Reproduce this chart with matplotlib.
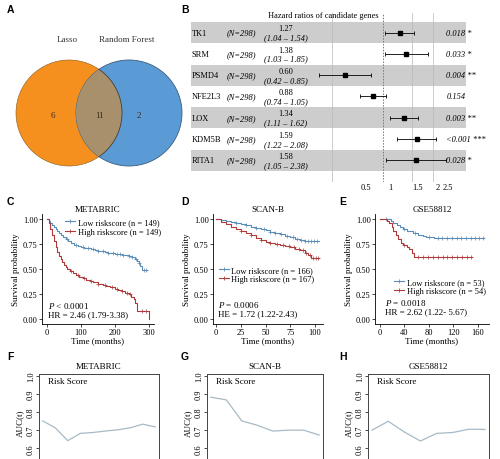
import numpy as np
import matplotlib
matplotlib.use('Agg')
import matplotlib.pyplot as plt
from matplotlib.patches import Circle
from matplotlib.lines import Line2D
from matplotlib.ticker import NullLocator
from matplotlib.transforms import blended_transform_factory

plt.rcParams['font.family'] = ['Liberation Serif', 'DejaVu Serif']
plt.rcParams['mathtext.fontset'] = 'custom'
plt.rcParams['mathtext.rm'] = 'Liberation Serif'
plt.rcParams['mathtext.it'] = 'Liberation Serif:italic'
plt.rcParams['font.size'] = 6

W, H = 500, 460

# ---- data ----
venn_sets = ['Lasso', 'Random Forest']
venn_counts = [6, 11, 2]

genes = ['TK1', 'SRM', 'PSMD4', 'NFE2L3', 'LOX', 'KDM5B', 'RITA1']
n_pat = [298, 298, 298, 298, 298, 298, 298]
hr = [1.27, 1.38, 0.60, 0.88, 1.34, 1.59, 1.58]
ci_lo = [1.04, 1.03, 0.42, 0.74, 1.11, 1.22, 1.05]
ci_hi = [1.54, 1.85, 0.85, 1.05, 1.62, 2.08, 2.38]
pvals = ['0.018', '0.033', '0.004', '0.154', '0.003', '<0.001', '0.028']
stars = ['*', '*', '**', '', '**', '***', '*']
hr_tick_labels = ['0.5', '1', '1.5', '2', '2.5']

# METABRIC KM
met_low_t = [0, 5, 10, 15, 20, 25, 30, 35, 40, 48, 55, 62, 70, 80, 90, 100, 110, 120, 130, 140, 150, 160,
             170, 180, 190, 200, 210, 220, 230, 240, 250, 258, 265, 270, 275, 280, 295]
met_low_s = [1.0, 0.98, 0.96, 0.94, 0.92, 0.90, 0.88, 0.86, 0.84, 0.82, 0.80, 0.78, 0.76, 0.745, 0.735, 0.725,
             0.715, 0.71, 0.70, 0.695, 0.685, 0.68, 0.675, 0.665, 0.66, 0.655, 0.65, 0.645, 0.64, 0.63, 0.62,
             0.60, 0.58, 0.56, 0.53, 0.49, 0.49]
met_low_c = [60, 85, 105, 120, 135, 150, 165, 180, 195, 205, 215, 225, 240, 250, 262, 272, 285, 292]
met_high_t = [0, 5, 10, 15, 20, 25, 30, 35, 40, 45, 50, 55, 60, 68, 75, 85, 95, 105, 115, 125, 135, 150,
              165, 175, 185, 200, 210, 220, 230, 240, 248, 255, 260, 264, 300]
met_high_s = [1.0, 0.96, 0.90, 0.84, 0.78, 0.72, 0.67, 0.63, 0.60, 0.57, 0.54, 0.52, 0.50, 0.48, 0.46, 0.44,
              0.42, 0.41, 0.39, 0.38, 0.37, 0.35, 0.34, 0.33, 0.32, 0.30, 0.29, 0.28, 0.26, 0.25, 0.22, 0.20,
              0.16, 0.08, 0.0]
met_high_c = [70, 90, 110, 130, 150, 170, 190, 205, 222, 235, 245, 280, 290]

# SCAN-B KM
scb_low_t = [0, 5, 10, 15, 20, 25, 30, 35, 40, 45, 50, 55, 60, 65, 70, 75, 80, 85, 90, 95, 100, 104]
scb_low_s = [1.0, 0.99, 0.98, 0.97, 0.96, 0.95, 0.94, 0.925, 0.91, 0.90, 0.89, 0.875, 0.86, 0.85, 0.835,
             0.82, 0.805, 0.795, 0.785, 0.78, 0.78, 0.78]
scb_low_c = [20, 30, 40, 48, 55, 60, 66, 72, 78, 82, 86, 90, 93, 96, 99, 102]
scb_high_t = [0, 5, 10, 15, 20, 25, 30, 35, 40, 45, 50, 55, 60, 65, 70, 75, 80, 85, 90, 93, 96, 104]
scb_high_s = [1.0, 0.975, 0.95, 0.925, 0.90, 0.88, 0.86, 0.84, 0.815, 0.795, 0.775, 0.76, 0.75, 0.74, 0.73,
              0.72, 0.705, 0.69, 0.665, 0.64, 0.61, 0.61]
scb_high_c = [25, 35, 45, 55, 62, 68, 74, 79, 84, 88, 91, 95, 98, 101, 103]

# GSE58812 KM
gse_low_t = [0, 18, 22, 28, 33, 37, 45, 54, 62, 70, 76, 88, 170]
gse_low_s = [1.0, 0.98, 0.96, 0.94, 0.92, 0.90, 0.88, 0.86, 0.84, 0.83, 0.82, 0.81, 0.81]
gse_low_c = [10, 40, 58, 80, 95, 102, 110, 118, 125, 132, 140, 148, 155, 162, 168]
gse_high_t = [0, 12, 15, 19, 22, 26, 30, 34, 38, 44, 48, 52, 56, 150]
gse_high_s = [1.0, 0.98, 0.96, 0.92, 0.88, 0.84, 0.80, 0.76, 0.74, 0.72, 0.70, 0.66, 0.62, 0.62]
gse_high_c = [40, 62, 70, 78, 86, 95, 103, 110, 118, 126, 134, 142, 148]

# time-dependent AUC
met_auc_t = [1, 2, 3, 4, 5, 6, 7, 8, 9, 10]
met_auc = [0.751, 0.713, 0.642, 0.682, 0.687, 0.695, 0.702, 0.713, 0.733, 0.718]
scb_auc_t = [1, 2, 3, 4, 5, 6, 7, 8]
scb_auc = [0.882, 0.867, 0.751, 0.727, 0.695, 0.700, 0.700, 0.673]
gse_auc_t = [1, 2, 3, 4, 5, 6, 7, 8]
gse_auc = [0.700, 0.749, 0.690, 0.640, 0.682, 0.687, 0.705, 0.704]

low_col = '#5b8db8'
high_col = '#b03a3a'

fig = plt.figure(figsize=(5, 4.6), dpi=100)


def px_axes(x0, y0, x1, y1):
    return fig.add_axes([x0 / W, 1 - y1 / H, (x1 - x0) / W, (y1 - y0) / H])


def letter(x, y, s):
    fig.text(x / W, 1 - y / H, s, fontsize=7.5, fontweight='bold', family='Liberation Sans',
             ha='center', va='center')


# ---- A: venn ----
ax = px_axes(0, 0, 185, 200)
ax.set_xlim(0, 185)
ax.set_ylim(200, 0)
ax.axis('off')
c1 = Circle((69, 114), 53, fc='#f5901e', ec='#8a5a20', lw=0.4)
c2 = Circle((129, 114), 53, fc='#5b9bd5', ec='#3c5c7c', lw=0.6)
ax.add_patch(c1)
ax.add_patch(c2)
mid = Circle((69, 114), 53, fc='#a8906c', ec='#4a3c30', lw=0.6)
ax.add_patch(mid)
mid.set_clip_path(c2)
ax.text(67, 40, venn_sets[0], ha='center', va='center', fontsize=6.5, color='#333333')
ax.text(127, 40, venn_sets[1], ha='center', va='center', fontsize=6.5, color='#333333')
for xx, n in zip([53, 100, 139], venn_counts):
    ax.text(xx, 116, str(n), ha='center', va='center', fontsize=6.5, color='#3a2a1e')

# ---- B: forest ----
ax = px_axes(191, 14, 466, 183)
ax.set_xscale('log')
ax.set_xlim(0.0733, 3.124)
ax.set_ylim(7.02, -0.92)
rows = np.arange(len(genes))
for i in rows[::2]:
    ax.axhspan(i - 0.5, i + 0.5, color='#cdcdcd', lw=0, zorder=0)
for v in [0.5, 1.5, 2]:
    ax.axvline(v, color='#b8b8b8', lw=0.5, zorder=1)
ax.axvline(1, color='#777777', lw=0.7, ls=(0, (1.5, 1.5)), zorder=1)
hr_a = np.array(hr)
ax.errorbar(hr_a, rows, xerr=[hr_a - np.array(ci_lo), np.array(ci_hi) - hr_a], fmt='s', color='black',
            ms=3, lw=0.6, capsize=1.5, capthick=0.6, zorder=3)
bt = blended_transform_factory(ax.transAxes, ax.transData)
for i in rows:
    ax.text(0.003, i, genes[i], transform=bt, ha='left', va='center', fontsize=6)
    ax.text(0.182, i, '(N=%d)' % n_pat[i], transform=bt, ha='center', va='center', fontsize=6,
            style='italic')
    ax.text(0.345, i - 0.2, '%.2f' % hr[i], transform=bt, ha='center', va='center', fontsize=6)
    ax.text(0.345, i + 0.22, '(%.2f \u2013 %.2f)' % (ci_lo[i], ci_hi[i]), transform=bt, ha='center',
            va='center', fontsize=6, style='italic')
    ax.text(0.928, i, (pvals[i] + ' ' + stars[i]).strip(), transform=bt, ha='left', va='center',
            fontsize=6, style='italic', clip_on=False)
ax.xaxis.set_minor_locator(NullLocator())
ax.set_xticks([0.80, 1.11, 1.62, 2.13, 2.44])
ax.set_xticklabels(hr_tick_labels)
ax.tick_params(axis='x', length=0, pad=0.5, labelsize=6)
ax.set_yticks([])
for sp in ax.spines.values():
    sp.set_visible(False)
fig.text(323 / W, 1 - 16 / H, 'Hazard ratios of candidate genes', ha='center', va='center', fontsize=6)


# ---- C, D, E: KM ----
def km_panel(box, title, curves, xlim, xticks, stats, leg_xy):
    ax = px_axes(*box)
    handles = []
    labels = []
    for t, s, ct, col, lab in curves:
        ax.step(t, s, where='post', color=col, lw=0.8)
        t_a = np.array(t)
        cs = [s[np.searchsorted(t_a, c, side='right') - 1] for c in ct]
        ax.plot(ct, cs, '+', color=col, ms=2.5, mew=0.5)
        handles.append(Line2D([], [], color=col, lw=0.8, marker='+', ms=3, mew=0.6))
        labels.append(lab)
    ax.set_xlim(*xlim)
    ax.set_ylim(-0.05, 1.05)
    ax.set_xticks(xticks)
    ax.set_yticks([0, 0.25, 0.5, 0.75, 1.0])
    ax.set_yticklabels(['0.00', '0.25', '0.50', '0.75', '1.00'])
    for sp in ['top', 'right']:
        ax.spines[sp].set_visible(False)
    for sp in ['left', 'bottom']:
        ax.spines[sp].set_linewidth(0.6)
    ax.tick_params(length=2, width=0.5, labelsize=6, pad=1)
    ax.set_title(title, fontsize=6.5, pad=2)
    ax.set_xlabel('Time (months)', fontsize=6.5, labelpad=0)
    ax.set_ylabel('Survival probability', fontsize=6.5, labelpad=2)
    ax.legend(handles, labels, loc='upper right', bbox_to_anchor=leg_xy, frameon=False, fontsize=6,
              handlelength=1.2, handletextpad=0.3, labelspacing=0.15, borderpad=0, borderaxespad=0)
    ax.text(stats[0], stats[1], stats[2], transform=ax.transAxes, fontsize=6.5, va='center')
    ax.text(stats[0], stats[1] - 0.08, stats[3], transform=ax.transAxes, fontsize=6.5, va='center')
    return ax


km_panel((42, 215, 154, 325), 'METABRIC',
         [(met_low_t, met_low_s, met_low_c, low_col, 'Low riskscore (n = 149)'),
          (met_high_t, met_high_s, met_high_c, high_col, 'High riskscore (n = 149)')],
         (-15, 315), [0, 100, 200, 300],
         (0.054, 0.17, r'$P$ < 0.0001', 'HR = 2.46 (1.79-3.38)'), (1.06, 0.96))
km_panel((213, 215, 323, 325), 'SCAN-B',
         [(scb_low_t, scb_low_s, scb_low_c, low_col, 'Low riskscore (n = 166)'),
          (scb_high_t, scb_high_s, scb_high_c, high_col, 'High riskscore (n = 167)')],
         (-3, 108), [0, 25, 50, 75, 100],
         (0.045, 0.18, r'$P$ = 0.0006', 'HE = 1.72 (1.22-2.43)'), (0.92, 0.53))
km_panel((375, 215, 489, 325), 'GSE58812',
         [(gse_low_t, gse_low_s, gse_low_c, low_col, 'Low riskscore (n = 53)'),
          (gse_high_t, gse_high_s, gse_high_c, high_col, 'High riskscore (n = 54)')],
         (-8, 178), [0, 40, 80, 120, 160],
         (0.088, 0.2, r'$P$ = 0.0018', 'HR = 2.62 (1.22- 5.67)'), (0.97, 0.42))


# ---- F, G, H: AUC ----
def auc_panel(box, title, t, auc, m):
    ax = px_axes(*box)
    ax.plot(t, auc, color='#a7bac6', lw=0.9)
    ax.set_xlim(t[0] - m, t[-1] + m)
    ax.set_ylim(0.48, 1.01)
    ax.set_xticks([])
    ax.set_yticks([0.6, 0.7, 0.8, 0.9, 1.0])
    ax.set_yticklabels(['0.6', '0.7', '0.8', '0.9', '1.0'], rotation=90, va='center')
    ax.tick_params(length=2, width=0.5, labelsize=6, pad=1)
    for sp in ax.spines.values():
        sp.set_linewidth(0.7)
        sp.set_color('#444444')
    ax.set_title(title, fontsize=6.5, pad=4)
    ax.set_ylabel('AUC(t)', fontsize=6.5, labelpad=2)
    ax.text(0.075, 0.93, 'Risk Score', transform=ax.transAxes, fontsize=6.5, va='center')


auc_panel((39, 375, 159, 471), 'METABRIC', met_auc_t, met_auc, 0.3)
auc_panel((207, 375, 323, 471), 'SCAN-B', scb_auc_t, scb_auc, 0.25)
auc_panel((368, 375, 489, 471), 'GSE58812', gse_auc_t, gse_auc, 0.25)

for xx, yy, s in [(10, 10, 'A'), (185, 10, 'B'), (10, 202, 'C'), (185, 202, 'D'), (343, 202, 'E'),
                  (10, 357, 'F'), (185, 357, 'G'), (343, 357, 'H')]:
    letter(xx, yy, s)

fig.savefig('out.png', dpi=100)
